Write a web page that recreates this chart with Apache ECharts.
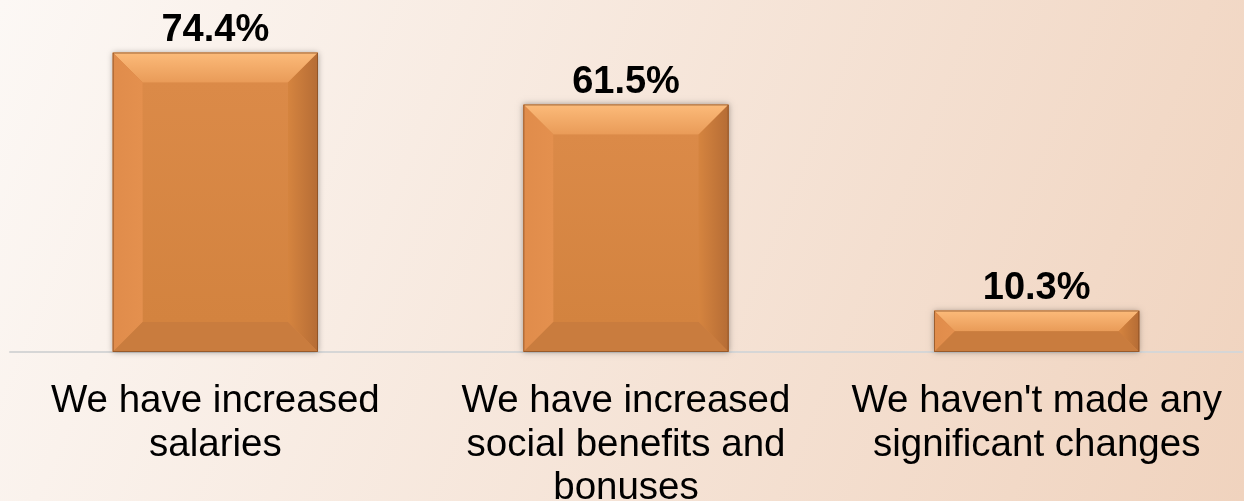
<!DOCTYPE html>
<html>
<head>
<meta charset="utf-8">
<style>
  html, body { margin: 0; padding: 0; }
  #chart { width: 1244px; height: 501px; }
</style>
<script src="https://cdn.jsdelivr.net/npm/echarts@6/dist/echarts.min.js"></script>
</head>
<body>
<div id="chart"></div>
<script>
const categories = [
  'We have increased\nsalaries',
  'We have increased\nsocial benefits and\nbonuses',
  "We haven't made any\nsignificant changes"
];
const values = [74.4, 61.5, 10.3];
const valueLabels = ['74.4%', '61.5%', '10.3%'];

const chart = echarts.init(document.getElementById('chart'));
const G = echarts.graphic;

// Bevelled bar: a flat face framed by four sloped edges
function renderBevelBar(params, api) {
  const idx = api.value(0);
  const val = api.value(1);
  const base = api.coord([idx, 0]);
  const top = api.coord([idx, val]);
  const bw = api.size([1, 0])[0] * 0.5;
  const x0 = top[0] - bw / 2, x1 = x0 + bw;
  const y0 = top[1], y1 = base[1];
  const h = y1 - y0;
  const b = Math.min(30, h / 2);

  return {
    type: 'group',
    children: [
      { type: 'rect', shape: { x: x0, y: y0, width: bw, height: h },
        style: { fill: '#D58443', shadowBlur: 6, shadowColor: 'rgba(0,0,0,0.35)', shadowOffsetX: 0, shadowOffsetY: 0 } },
      { type: 'rect', shape: { x: x0 + b, y: y0 + b, width: bw - 2 * b, height: h - 2 * b },
        style: { fill: new G.LinearGradient(0, 0, 0, 1, [
          { offset: 0, color: '#DB8A48' }, { offset: 1, color: '#D3833F' }]) } },
      { type: 'polygon', shape: { points: [[x0, y0], [x1, y0], [x1 - b, y0 + b], [x0 + b, y0 + b]] },
        style: { fill: new G.LinearGradient(0, 0, 0, 1, [
          { offset: 0, color: '#FCBB7A' }, { offset: 1, color: '#E99B58' }]) } },
      { type: 'polygon', shape: { points: [[x0, y0], [x0 + b, y0 + b], [x0 + b, y1 - b], [x0, y1]] },
        style: { fill: new G.LinearGradient(0, 0, 1, 0, [
          { offset: 0, color: '#E08C4B' }, { offset: 1, color: '#E4904E' }]) } },
      { type: 'polygon', shape: { points: [[x1, y0], [x1, y1], [x1 - b, y1 - b], [x1 - b, y0 + b]] },
        style: { fill: new G.LinearGradient(0, 0, 1, 0, [
          { offset: 0, color: '#D5843F' }, { offset: 1, color: '#B56C35' }]) } },
      { type: 'polygon', shape: { points: [[x0, y1], [x0 + b, y1 - b], [x1 - b, y1 - b], [x1, y1]] },
        style: { fill: '#C97C3E' } },
      { type: 'rect', shape: { x: x0 + 0.5, y: y0 + 0.5, width: bw - 1, height: h - 1 },
        style: { fill: 'none', stroke: 'rgba(130,75,35,0.7)', lineWidth: 1 } },
      { type: 'text', x: top[0], y: y0 - 3,
        style: { text: valueLabels[idx], fill: '#000', align: 'center', verticalAlign: 'bottom',
          font: 'bold 38px "Liberation Sans", Arial, sans-serif' } }
    ]
  };
}

chart.setOption({
  animation: false,
  backgroundColor: new G.LinearGradient(0, 0, 1, 1, [
    { offset: 0, color: '#FCF8F5' },
    { offset: 1, color: '#F0D3BE' }
  ]),
  grid: { left: 10, right: 2, top: 30, bottom: 149, containLabel: false, outerBoundsMode: 'none' },
  xAxis: {
    type: 'category',
    data: categories,
    axisLine: { lineStyle: { color: '#D6D6D6', width: 2 } },
    axisTick: { show: false },
    axisLabel: {
      interval: 0, margin: 28, color: '#000',
      fontFamily: '"Liberation Sans", Arial, sans-serif',
      fontSize: 38.5, lineHeight: 43.5
    }
  },
  yAxis: { type: 'value', min: 0, max: 80, show: false, splitLine: { show: false } },
  series: [{
    type: 'custom',
    renderItem: renderBevelBar,
    encode: { x: 0, y: 1 },
    data: values.map((v, i) => [i, v]),
    z: 3
  }]
});
</script>
</body>
</html>
